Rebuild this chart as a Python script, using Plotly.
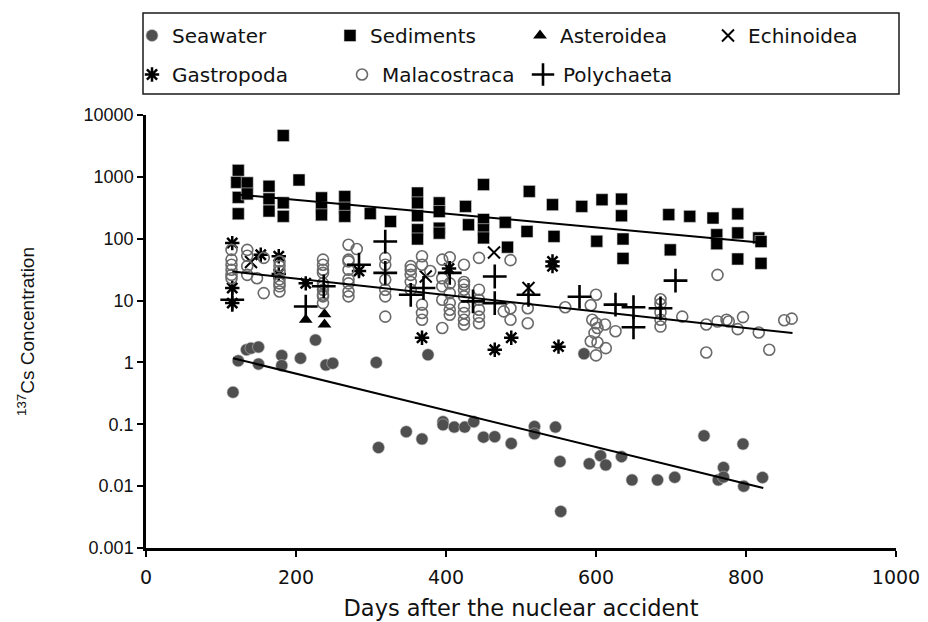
import plotly.graph_objects as go

# ---------------- data ----------------
seawater_days = [116, 123, 134, 140, 150, 150, 181, 181, 206, 226, 240, 249, 307, 310, 347, 368, 376,
                 396, 396, 411, 425, 437, 450, 465, 487, 518, 518, 546, 552, 553, 584, 591, 606, 613,
                 634, 648, 682, 705, 744, 763, 770, 770, 796, 797, 822]
seawater_vals = [0.33, 1.06, 1.6, 1.7, 1.77, 0.94, 1.29, 0.89, 1.17, 2.3, 0.91, 0.97, 1.0, 0.042, 0.076,
                 0.058, 1.33, 0.11, 0.098, 0.09, 0.09, 0.11, 0.062, 0.063, 0.049, 0.092, 0.07, 0.09,
                 0.025, 0.0039, 1.38, 0.023, 0.031, 0.022, 0.030, 0.0126, 0.0126, 0.0139, 0.065,
                 0.0126, 0.020, 0.014, 0.048, 0.010, 0.0138]

sediment_days = [123, 121, 123, 123, 135, 135, 164, 164, 164, 183, 183, 183, 204, 234, 234, 234, 265,
                 265, 265, 299, 326, 362, 362, 362, 362, 362, 391, 391, 391, 391, 426, 430, 450, 450,
                 450, 450, 479, 482, 511, 508, 542, 544, 581, 608, 601, 634, 634, 636, 636, 697, 699,
                 725, 756, 761, 761, 789, 789, 789, 817, 820, 820]
sediment_vals = [1274, 815, 466, 253, 800, 530, 705, 440, 280, 380, 230, 4650, 890, 458, 312, 243, 480,
                 313, 230, 255, 190, 548, 380, 235, 140, 99, 380, 275, 148, 123, 333, 168, 750, 204,
                 140, 103, 184, 73, 582, 131, 355, 109, 333, 427, 91, 437, 235, 99, 48, 245, 66,
                 230, 216, 116, 83, 252, 124, 47, 103, 90, 40]

asteroidea_days = [213, 238, 238]
asteroidea_vals = [4.9, 6.0, 4.1]

echinoidea_days = [140, 373, 464, 510]
echinoidea_vals = [42, 24.5, 60, 16]

gastropoda_days = [115, 115, 115, 153, 177, 177, 213, 284, 368, 404, 465, 487, 542, 542, 550]
gastropoda_vals = [85, 16, 9.1, 55, 52, 27, 19, 30, 2.5, 33, 1.6, 2.5, 43, 36, 1.8]

malacostraca_days = [114, 114, 114, 114, 114, 114, 135, 135, 135, 135, 148, 157, 157,
                     178, 178, 178, 178, 178, 178, 178,
                     236, 236, 236, 236, 236, 236, 236, 236, 236, 236,
                     270, 270, 270, 270, 270, 270, 281, 270, 270,
                     319, 319, 319, 319, 319, 319,
                     353, 353, 353, 353, 353,
                     368, 368, 368, 368, 368, 379,
                     395, 395, 395, 395, 395,
                     405, 405, 405, 405, 405, 405,
                     424, 424, 424, 424, 424, 424, 424, 424, 424,
                     444, 444, 444, 444, 444, 444,
                     486, 486, 486, 477, 509, 509, 559,
                     593, 595, 600, 602, 598, 593, 602, 613, 600, 600, 626, 612,
                     686, 686, 686, 686, 686,
                     715, 747, 747, 762, 762, 774, 777, 789, 796, 817, 831, 851, 861]
malacostraca_vals = [66, 46, 38, 31.5, 26, 23, 66, 53, 36, 26, 23, 49, 13.2,
                     43, 36, 30, 22, 19, 17, 14,
                     46, 38, 31.5, 19, 15, 11.7, 9.1, 28, 17, 12.4,
                     80, 46, 31.5, 19, 14, 11.7, 68, 43, 22,
                     49, 38, 21.7, 15, 11.7, 5.5,
                     36, 31.5, 26, 20, 15,
                     52, 38, 8.6, 6.3, 4.9, 30,
                     46, 23, 17, 10.3, 3.6,
                     50, 19, 13.2, 9.1, 7.1, 5.9,
                     38, 20, 18, 15, 11.7, 8.0, 6.3, 4.9, 4.1,
                     49, 15, 10.3, 7.1, 5.5, 4.3,
                     45, 7.5, 4.9, 6.7, 7.5, 4.3, 7.8,
                     8.4, 4.9, 4.3, 3.6, 3.0, 2.2, 2.1, 1.7, 1.3, 12.4, 3.2, 4.1,
                     10.5, 8.8, 6.5, 4.9, 3.8,
                     5.5, 4.1, 1.45, 26, 4.6, 4.9, 4.6, 3.45, 5.4, 3.05, 1.6, 4.8, 5.1]

polychaeta_days = [115, 213, 237, 284, 319, 319, 353, 370, 405, 436, 465, 465, 510, 578, 626, 650,
                   650, 686, 706]
polychaeta_vals = [10.3, 8.0, 17, 38, 90, 28, 12.4, 16, 28, 9.7, 24.5, 9.1, 12.4, 11.5, 8.6, 7.8,
                   3.7, 7.5, 21]

# trend lines (end points)
trend_sea_days = [116, 823]
trend_sea_vals = [1.17, 0.0093]
trend_sed_days = [117, 818]
trend_sed_vals = [525, 87]
trend_bio_days = [115, 862]
trend_bio_vals = [29.5, 2.98]

y_tickvals = [0.001, 0.01, 0.1, 1, 10, 100, 1000, 10000]
y_ticktext = ["0.001", "0.01", "0.1", "1", "10", "100", "1000", "10000"]
x_tickvals = [0, 200, 400, 600, 800, 1000]

# ---------------- figure ----------------
fig = go.Figure()

fig.add_trace(go.Scatter(x=seawater_days, y=seawater_vals, mode="markers", name="Seawater",
                         legend="legend", legendwidth=153,
                         marker=dict(symbol="circle", size=12, color="#4f4f4f",
                                     line=dict(color="#bdbdbd", width=0.6))))
fig.add_trace(go.Scatter(x=sediment_days, y=sediment_vals, mode="markers", name="Sediments",
                         legend="legend", legendwidth=145,
                         marker=dict(symbol="square", size=12, color="#000000",
                                     line=dict(color="#d8d8d8", width=0.6))))
fig.add_trace(go.Scatter(x=asteroidea_days, y=asteroidea_vals, mode="markers", name="Asteroidea",
                         legend="legend", legendwidth=143,
                         marker=dict(symbol="triangle-up", size=12, color="#000000",
                                     line=dict(color="#000000", width=0))))
fig.add_trace(go.Scatter(x=echinoidea_days, y=echinoidea_vals, mode="markers", name="Echinoidea",
                         legend="legend",
                         marker=dict(symbol="x-thin-open", size=12, color="#000000",
                                     line=dict(color="#000000", width=2))))
fig.add_trace(go.Scatter(x=gastropoda_days, y=gastropoda_vals, mode="markers", name="Gastropoda",
                         legend="legend2", legendwidth=165,
                         marker=dict(symbol="asterisk-open", size=12, color="#000000",
                                     line=dict(color="#000000", width=2.5))))
fig.add_trace(go.Scatter(x=malacostraca_days, y=malacostraca_vals, mode="markers", name="Malacostraca",
                         legend="legend2", legendwidth=136,
                         marker=dict(symbol="circle-open", size=11, color="#6a6a6a",
                                     line=dict(color="#6a6a6a", width=1.6))))
fig.add_trace(go.Scatter(x=polychaeta_days, y=polychaeta_vals, mode="markers", name="Polychaeta",
                         legend="legend2",
                         marker=dict(symbol="cross-thin-open", size=17, color="#000000",
                                     line=dict(color="#000000", width=2.6))))

for dx, dy in [(trend_sea_days, trend_sea_vals), (trend_sed_days, trend_sed_vals),
               (trend_bio_days, trend_bio_vals)]:
    fig.add_trace(go.Scatter(x=dx, y=dy, mode="lines", showlegend=False, hoverinfo="skip",
                             line=dict(color="#000000", width=2)))

# the page body adds an 8 px offset; layout is expressed in window pixels
OFF = 8
W, H = 928 - OFF, 622 - OFF
ml, mt = 146 - OFF, 115 - OFF
mr = 928 - 896
mb = 622 - 548
pw, ph = W - ml - mr, H - mt - mb


def px_to_paper_x(px):
    return (px - OFF - ml) / pw


def px_to_paper_y(py):
    return 1 + (mt - (py - OFF)) / ph


wide = "DejaVu Sans, Verdana, sans-serif"
legend_font = dict(family=wide, size=20, color="#111111")

fig.update_layout(
    width=W, height=H,
    margin=dict(l=ml, r=mr, t=mt, b=mb, autoexpand=False),
    paper_bgcolor="white", plot_bgcolor="white",
    font=dict(family="Liberation Sans, Arial, sans-serif", color="#111111"),
    legend=dict(orientation="h", x=px_to_paper_x(132), xanchor="left",
                y=px_to_paper_y(16), yanchor="top", font=legend_font,
                bgcolor="rgba(0,0,0,0)", borderwidth=0, itemwidth=30),
    legend2=dict(orientation="h", x=px_to_paper_x(132), xanchor="left",
                 y=px_to_paper_y(55), yanchor="top", font=legend_font,
                 bgcolor="rgba(0,0,0,0)", borderwidth=0, itemwidth=30),
    shapes=[dict(type="rect", xref="paper", yref="paper",
                 x0=px_to_paper_x(143), x1=px_to_paper_x(899),
                 y0=px_to_paper_y(94), y1=px_to_paper_y(13),
                 line=dict(color="#1a1a1a", width=1.5), fillcolor="rgba(0,0,0,0)")],
    xaxis=dict(range=[0, 1000], tickvals=x_tickvals, showgrid=False, zeroline=False,
               showline=True, linecolor="#000000", linewidth=2.5,
               ticks="outside", ticklen=6, tickwidth=2, tickcolor="#000000",
               ticklabelstandoff=4,
               tickfont=dict(size=19, family=wide),
               title=dict(text="Days after the nuclear accident", standoff=14,
                          font=dict(size=22.5, family=wide))),
    yaxis=dict(type="log", range=[-3, 4], tickvals=y_tickvals, ticktext=y_ticktext,
               showgrid=False, zeroline=False,
               showline=True, linecolor="#000000", linewidth=2.5,
               ticks="outside", ticklen=6, tickwidth=2, tickcolor="#000000",
               tickfont=dict(size=18),
               title=dict(text="<sup>137</sup>Cs Concentration", standoff=44,
                          font=dict(size=19))),
)

fig.write_html("out.html")
